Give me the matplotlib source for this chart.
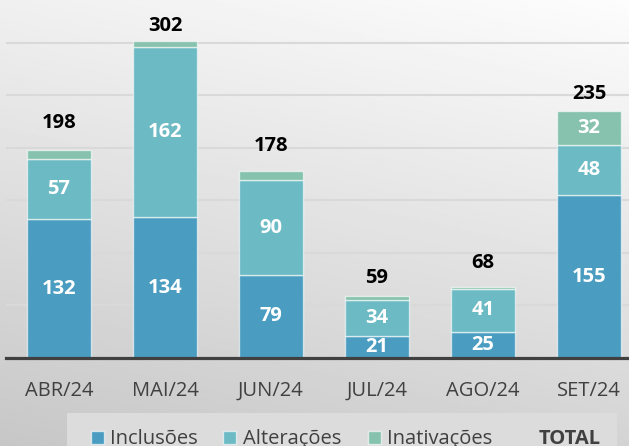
import matplotlib
matplotlib.use('Agg')
import matplotlib.pyplot as plt
import numpy as np
from matplotlib.patches import Rectangle

months = ['ABR/24', 'MAI/24', 'JUN/24', 'JUL/24', 'AGO/24', 'SET/24']
inclusoes = [132, 134, 79, 21, 25, 155]
alteracoes = [57, 162, 90, 34, 41, 48]
inativacoes = [9, 6, 9, 4, 2, 32]
totals = [198, 302, 178, 59, 68, 235]
series_names = ['Inclusões', 'Alterações', 'Inativações']
total_name = 'TOTAL'

colors = ['#4a9dc0', '#6bbac4', '#86c2ad']
total_offsets_px = [27, 15, 25, 18, 24, 17]
FONT = 'Open Sans'

W, H = 629, 446
fig = plt.figure(figsize=(W / 100, H / 100), dpi=100)

# gradient background
bg = fig.add_axes([0, 0, 1, 1], zorder=-10)
yy, xx = np.mgrid[0:1:200j, 0:1:300j]
g = 0.78 + 0.16 * yy + 0.05 * xx
bg.imshow(g, origin='lower', cmap='gray', vmin=0, vmax=1, extent=[0, 1, 0, 1], aspect='auto')
bg.axis('off')

ax = fig.add_axes([6 / W, 88 / H, 636 / W, 358 / H])
ax.patch.set_alpha(0)
x = np.arange(len(months))
bw = 0.6
series = [inclusoes, alteracoes, inativacoes]
bottom = np.zeros(len(months))
for vals, c in zip(series, colors):
    vals = np.array(vals, dtype=float)
    ax.bar(x, vals, bw, bottom=bottom, color=c, edgecolor=(1, 1, 1, 0.6), linewidth=1.0, zorder=3)
    for xi, b, v in zip(x, bottom, vals):
        if v >= 15:
            ax.text(xi, b + v / 2, f'{int(v)}', ha='center', va='center', color='white',
                    fontsize=14.5, fontweight='bold', family=FONT, zorder=4)
    bottom += vals

for xi, t, off in zip(x, totals, total_offsets_px):
    ax.annotate(f'{t}', xy=(xi, t), xytext=(0, off * 0.72), textcoords='offset points',
                ha='center', va='center', fontsize=14.5, fontweight='bold', family=FONT, color='black')

ax.set_xlim(-0.5, len(months) - 0.5)
ax.set_ylim(0, 340.6)
ax.set_yticks(range(0, 301, 50))
ax.tick_params(left=False, labelleft=False, bottom=False)
ax.grid(axis='y', color='#d9d9d9', linewidth=1.5, zorder=0)
ax.set_axisbelow(True)
for s in ax.spines.values():
    s.set_visible(False)
ax.axhline(0, color='#404040', linewidth=2.3, zorder=5, clip_on=False)
ax.set_xticks(x)
ax.set_xticklabels(months, fontsize=14.5, family=FONT, color='#404040')
ax.tick_params(axis='x', pad=13)

# legend
fig.add_artist(Rectangle((67 / W, 0), (617 - 67) / W, 33 / H, transform=fig.transFigure,
                         facecolor='#dcdcdc', edgecolor='none', zorder=1))
marker_x = [91, 223, 368]
text_x = [110, 243, 387]
for mx, tx, name, c in zip(marker_x, text_x, series_names, colors):
    fig.add_artist(Rectangle((mx / W, 2 / H), 13 / W, 13 / H, transform=fig.transFigure,
                             facecolor=c, edgecolor=(1, 1, 1, 0.6), linewidth=1.0, zorder=2))
    fig.text(tx / W, 2 / H, name, ha='left', va='baseline', fontsize=14.5, family=FONT,
             color='#404040', zorder=3)
fig.text(539 / W, 2 / H, total_name, ha='left', va='baseline', fontsize=14.5, family=FONT,
         fontweight='bold', color='#404040', zorder=3)

fig.savefig('out.png', dpi=100)
